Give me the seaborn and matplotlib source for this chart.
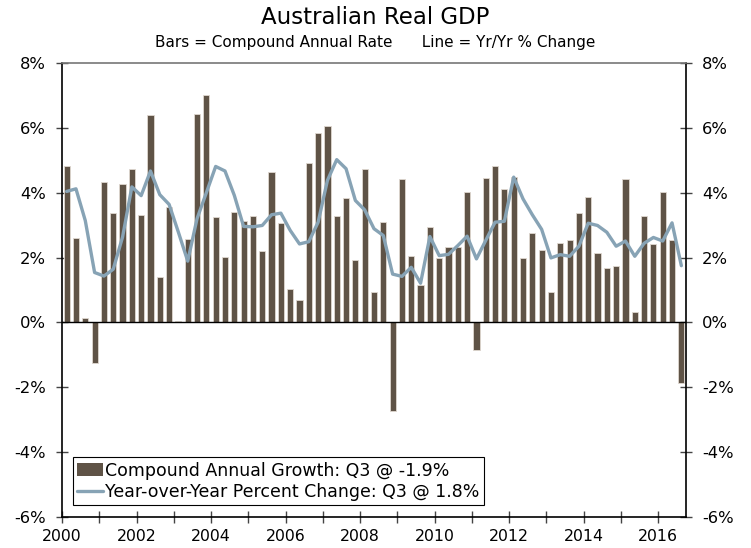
import numpy as np
import pandas as pd
import matplotlib
matplotlib.use("Agg")
import matplotlib.pyplot as plt
import seaborn as sns
from matplotlib.patches import Patch
from matplotlib.lines import Line2D

# Quarterly data 2000 Q1 .. 2016 Q3
years = list(range(2000, 2017))
bars_saar = [4.81, 2.59, 0.15, -1.24,
             4.32, 3.36, 4.26, 4.72,
             3.30, 6.41, 1.39, 3.56,
             0.04, 2.57, 6.44, 7.00,
             3.26, 2.02, 3.39, 3.12,
             3.29, 2.19, 4.64, 3.07,
             1.02, 0.70, 4.91, 5.84,
             6.05, 3.28, 3.85, 1.93,
             4.72, 0.94, 3.10, -2.72,
             4.43, 2.05, 1.16, 2.95,
             1.99, 2.32, 2.32, 4.01,
             -0.85, 4.46, 4.82, 4.10,
             4.47, 1.98, 2.76, 2.24,
             0.94, 2.46, 2.53, 3.38,
             3.86, 2.15, 1.68, 1.75,
             4.43, 0.32, 3.29, 2.43,
             4.03, 2.55, -1.87]
line_yoy = [4.04, 4.12, 3.14, 1.54,
            1.43, 1.64, 2.63, 4.18,
            3.91, 4.67, 3.94, 3.64,
            2.78, 1.89, 3.20, 4.00,
            4.81, 4.67, 3.92, 2.96,
            2.95, 2.99, 3.32, 3.37,
            2.84, 2.42, 2.49, 3.09,
            4.38, 5.02, 4.74, 3.76,
            3.47, 2.89, 2.68, 1.49,
            1.42, 1.70, 1.21, 2.65,
            2.06, 2.10, 2.37, 2.66,
            1.96, 2.53, 3.09, 3.12,
            4.48, 3.81, 3.32, 2.87,
            1.99, 2.09, 2.04, 2.35,
            3.06, 2.99, 2.78, 2.35,
            2.51, 2.04, 2.44, 2.62,
            2.51, 3.07, 1.75]

n = len(bars_saar)
qpos = [2000 + (i + 0.5) / 4 for i in range(n)]
df = pd.DataFrame({"t": qpos, "bars": bars_saar, "yoy": line_yoy})

BAR_C = "#5f5346"
LINE_C = "#87a3b5"

sns.set_style("white")
plt.rcParams["font.family"] = ["DejaVu Sans"]
plt.rcParams["text.color"] = "black"
plt.rcParams["xtick.color"] = "black"
plt.rcParams["ytick.color"] = "black"
plt.rcParams["axes.labelcolor"] = "black"

fig = plt.figure(figsize=(7.51, 5.48), dpi=100)
ax = fig.add_axes([62 / 751, 1 - 517 / 548, (686 - 62) / 751, (517 - 63) / 548])

sns.barplot(data=df, x="t", y="bars", native_scale=True, width=0.66,
            color=BAR_C, saturation=1, edgecolor="#e0d8d0", linewidth=0.6,
            ax=ax, zorder=2)
sns.lineplot(data=df, x="t", y="yoy", color=LINE_C, linewidth=2.4, ax=ax,
             zorder=3)

ax.axhline(0, color="black", linewidth=1.0, zorder=4)
ax.set_xlim(2000, 2016.75)
ax.set_ylim(-6, 8)
ax.set_xlabel("")
ax.set_ylabel("")

yt = [-6, -4, -2, 0, 2, 4, 6, 8]
ax.set_yticks(yt)
ax.set_yticklabels([f"{v}%" for v in yt])
ax.set_xticks(years)
ax.set_xticklabels([str(y) if y % 2 == 0 else "" for y in years])
ax.tick_params(axis="y", direction="inout", length=9, width=1, color="#444444",
               labelsize=11.8, left=True, right=True, labelleft=True,
               labelright=True, pad=7, labelcolor="black")
ax.tick_params(axis="x", direction="inout", length=9, width=1, color="#444444",
               labelsize=11.3, bottom=True, pad=4, labelcolor="black")

for s in ["left", "right", "bottom"]:
    ax.spines[s].set_color("black")
    ax.spines[s].set_linewidth(1.2)
    ax.spines[s].set_visible(True)
ax.spines["top"].set_color("#777777")
ax.spines["top"].set_linewidth(1.2)
ax.spines["top"].set_visible(True)

handles = [Patch(facecolor=BAR_C, edgecolor="none"),
           Line2D([0], [0], color=LINE_C, linewidth=2.4)]
labels = ["Compound Annual Growth: Q3 @ -1.9%",
          "Year-over-Year Percent Change: Q3 @ 1.8%"]
leg = ax.legend(handles, labels, loc="lower left",
                bbox_to_anchor=(11 / 624, 12 / 454), fontsize=12.5,
                frameon=True, fancybox=False, framealpha=1,
                edgecolor="black", borderpad=0.25, labelspacing=0.18,
                handlelength=1.5, handletextpad=0.1, borderaxespad=0)
leg.get_frame().set_linewidth(0.8)
for t in leg.get_texts():
    t.set_color("black")

fig.text(0.5, 1 - 17 / 548, "Australian Real GDP", ha="center", va="center",
         fontsize=16.5, color="black")
fig.text(0.5, 1 - 42 / 548,
         "Bars = Compound Annual Rate      Line = Yr/Yr % Change",
         ha="center", va="center", fontsize=11, color="black")

fig.savefig("out.png", dpi=100)
